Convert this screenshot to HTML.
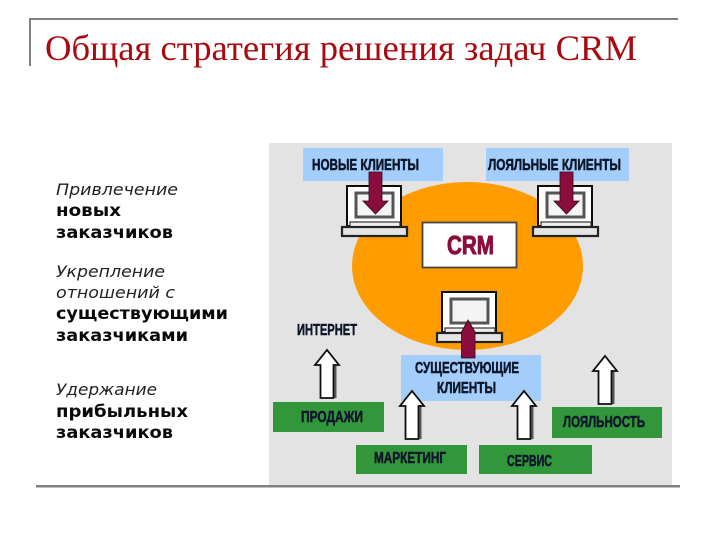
<!DOCTYPE html>
<html lang="ru">
<head>
<meta charset="utf-8">
<title>Общая стратегия решения задач CRM</title>
<style>
html,body{margin:0;padding:0;background:#fff;width:720px;height:540px;overflow:hidden}
svg{display:block}
.l{font-family:"DejaVu Sans",sans-serif;fill:#111}
.i{font-style:italic;fill:#222;font-size:16px}
.b{font-weight:bold;font-size:17px;fill:#0a0a0a}
.c{font-family:"Liberation Sans",sans-serif;font-weight:bold;font-size:16px;fill:#10182a;stroke:#10182a;stroke-width:.55}
</style>
</head>
<body>
<svg width="720" height="540" viewBox="0 0 720 540" xmlns="http://www.w3.org/2000/svg">
<defs>
<filter id="s" x="-5%" y="-5%" width="110%" height="110%"><feGaussianBlur stdDeviation="0.3"/></filter>
<g id="lap">
<rect x="6" y="0" width="54" height="40" fill="#fff" stroke="#111" stroke-width="2"/>
<rect x="15" y="7" width="37" height="24" fill="#f4f4f4" stroke="#555" stroke-width="3"/>
<rect x="9" y="36" width="50" height="5" fill="#eee" stroke="#333" stroke-width="1.200"/>
<rect x="1" y="41" width="65" height="9" fill="#e4e4e4" stroke="#222" stroke-width="2.200"/>
</g>
<path id="red" d="M-6.500 0H6.500V29H12.500L0 42L-12.500 29H-6.500Z" fill="#8b0a3c" stroke="#2a0a18" stroke-width="0.800"/>
<g id="wh">
<path d="M8.500 48V15" stroke="#555" stroke-width="2" fill="none"/>
<path d="M-6.500 48V15H-12L0 0L12 15H6.500V48Z" fill="#fff" stroke="#111" stroke-width="1.800"/>
</g>
</defs>

<path d="M30 66V19H678" fill="none" stroke="#808080" stroke-width="2"/>
<text x="45" y="60" font-family="'Liberation Serif',serif" font-size="36" fill="#a80a10" textLength="592" lengthAdjust="spacingAndGlyphs">Общая стратегия решения задач CRM</text>

<text class="l i" x="56" y="195" textLength="122" lengthAdjust="spacingAndGlyphs">Привлечение</text>
<text class="l b" x="56" y="216" textLength="65" lengthAdjust="spacingAndGlyphs">новых</text>
<text class="l b" x="56" y="238" textLength="117" lengthAdjust="spacingAndGlyphs">заказчиков</text>
<text class="l i" x="56" y="277" textLength="109" lengthAdjust="spacingAndGlyphs">Укрепление</text>
<text class="l i" x="56" y="298" textLength="119" lengthAdjust="spacingAndGlyphs">отношений с</text>
<text class="l b" x="56" y="319" textLength="172" lengthAdjust="spacingAndGlyphs">существующими</text>
<text class="l b" x="56" y="341" textLength="132" lengthAdjust="spacingAndGlyphs">заказчиками</text>
<text class="l i" x="56" y="395" textLength="101" lengthAdjust="spacingAndGlyphs">Удержание</text>
<text class="l b" x="56" y="417" textLength="132" lengthAdjust="spacingAndGlyphs">прибыльных</text>
<text class="l b" x="56" y="438" textLength="117" lengthAdjust="spacingAndGlyphs">заказчиков</text>

<g filter="url(#s)">
<rect x="269" y="143" width="403" height="342" fill="#e3e3e3"/>
<ellipse cx="467.500" cy="266" rx="115.500" ry="84" fill="#ff9c00"/>
<rect x="303" y="148" width="140" height="33" fill="#a3cdfb"/>
<rect x="486" y="148" width="143" height="33" fill="#a3cdfb"/>
<rect x="401" y="355" width="140" height="46" fill="#a3cdfb"/>
<rect x="273" y="402" width="111" height="30" fill="#33963a"/>
<rect x="356" y="445" width="111" height="29" fill="#33963a"/>
<rect x="479" y="445" width="113" height="29" fill="#33963a"/>
<rect x="552" y="407" width="110" height="31" fill="#33963a"/>

<rect x="422.500" y="222.500" width="94" height="45" fill="#fff" stroke="#444" stroke-width="1.800"/>
<text x="447" y="254" font-family="'Liberation Sans',sans-serif" font-weight="bold" font-size="26" fill="#8b0a3c" stroke="#8b0a3c" stroke-width="1" textLength="47" lengthAdjust="spacingAndGlyphs">CRM</text>

<use href="#lap" x="341" y="186"/>
<use href="#lap" x="532" y="186"/>
<use href="#lap" x="436" y="292"/>

<use href="#red" x="375.500" y="172"/>
<use href="#red" x="566.500" y="172"/>
<path d="M461.500 358V332L468 320L475 332V358Z" fill="#8b0a3c" stroke="#2a0a18" stroke-width="0.800"/>

<use href="#wh" x="327" y="350"/>
<use href="#wh" x="412" y="391"/>
<use href="#wh" x="524" y="391"/>
<use href="#wh" x="605" y="356"/>

<text class="c" x="312" y="170" textLength="107" lengthAdjust="spacingAndGlyphs">НОВЫЕ КЛИЕНТЫ</text>
<text class="c" x="488" y="170" textLength="133" lengthAdjust="spacingAndGlyphs">ЛОЯЛЬНЫЕ КЛИЕНТЫ</text>
<text class="c" x="297" y="335" textLength="60" lengthAdjust="spacingAndGlyphs">ИНТЕРНЕТ</text>
<text class="c" x="415" y="373" textLength="104" lengthAdjust="spacingAndGlyphs">СУЩЕСТВУЮЩИЕ</text>
<text class="c" x="437" y="393" textLength="59" lengthAdjust="spacingAndGlyphs">КЛИЕНТЫ</text>
<text class="c" x="301" y="422" textLength="62" lengthAdjust="spacingAndGlyphs">ПРОДАЖИ</text>
<text class="c" x="374" y="463" textLength="72" lengthAdjust="spacingAndGlyphs">МАРКЕТИНГ</text>
<text class="c" x="507" y="466" textLength="45" lengthAdjust="spacingAndGlyphs">СЕРВИС</text>
<text class="c" x="563" y="427" textLength="82" lengthAdjust="spacingAndGlyphs">ЛОЯЛЬНОСТЬ</text>
</g>

<rect x="36" y="485" width="644" height="2.500" fill="#808080"/>
</svg>
</body>
</html>
